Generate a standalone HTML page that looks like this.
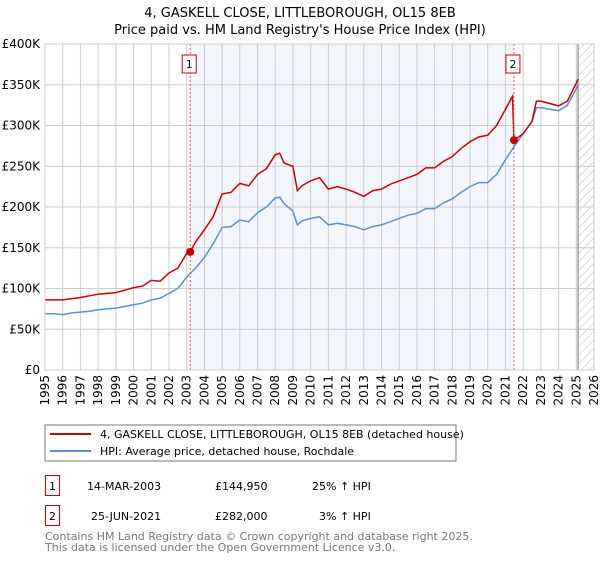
<!DOCTYPE html>
<html><head><meta charset="utf-8"><style>
body{margin:0;background:#fff;width:600px;height:560px;overflow:hidden}
svg text{font-family:"DejaVu Sans","Liberation Sans",sans-serif;}
</style></head><body>
<svg id="c" width="600" height="560" xmlns="http://www.w3.org/2000/svg">
<text x="300" y="17" text-anchor="middle" font-size="13">4, GASKELL CLOSE, LITTLEBOROUGH, OL15 8EB</text>
<text x="300" y="34" text-anchor="middle" font-size="13">Price paid vs. HM Land Registry's House Price Index (HPI)</text>
<defs><pattern id="h" width="6" height="6" patternUnits="userSpaceOnUse" patternTransform="rotate(45)"><line x1="0" y1="0" x2="0" y2="6" stroke="#bbb" stroke-width="1"/></pattern></defs>
<g id="grid"></g><g id="marks"></g>
<rect x="45" y="425" width="411" height="36" fill="#fff" stroke="#777"/>
<line x1="50" y1="434" x2="91" y2="434" stroke="#cc0000" stroke-width="2"/>
<text x="100" y="438" font-size="11">4, GASKELL CLOSE, LITTLEBOROUGH, OL15 8EB (detached house)</text>
<line x1="50" y1="451" x2="91" y2="451" stroke="#5b8fd4" stroke-width="2"/>
<text x="100" y="455" font-size="11">HPI: Average price, detached house, Rochdale</text>
<g font-size="11">
<rect x="45.5" y="475.5" width="14" height="20" fill="none" stroke="#cc0000"/>
<text x="52.5" y="490" text-anchor="middle">1</text>
<text x="87" y="490">14-MAR-2003</text>
<text x="215" y="490">£144,950</text>
<text x="312" y="490">25% ↑ HPI</text>
<rect x="45.5" y="505.5" width="14" height="20" fill="none" stroke="#cc0000"/>
<text x="52.5" y="520" text-anchor="middle">2</text>
<text x="91" y="520">25-JUN-2021</text>
<text x="215" y="520">£282,000</text>
<text x="319" y="520">3% ↑ HPI</text>
</g>
<text x="45" y="540" font-size="11" fill="#777">Contains HM Land Registry data © Crown copyright and database right 2025.</text>
<text x="45" y="551" font-size="11" fill="#777">This data is licensed under the Open Government Licence v3.0.</text>
</svg>
<script>
const yearTicks=[1995,1996,1997,1998,1999,2000,2001,2002,2003,2004,2005,2006,2007,2008,2009,2010,2011,2012,2013,2014,2015,2016,2017,2018,2019,2020,2021,2022,2023,2024,2025,2026];
const priceTicks=[0,50,100,150,200,250,300,350,400];
const priceLabels=["£0","£50K","£100K","£150K","£200K","£250K","£300K","£350K","£400K"];
const hpiYears=[1995,1995.5,1996,1996.5,1997,1997.5,1998,1998.5,1999,1999.5,2000,2000.5,2001,2001.5,2002,2002.5,2003,2003.5,2004,2004.5,2005,2005.5,2006,2006.5,2007,2007.5,2008,2008.25,2008.5,2009,2009.25,2009.5,2010,2010.5,2011,2011.5,2012,2012.5,2013,2013.5,2014,2014.5,2015,2015.5,2016,2016.5,2017,2017.5,2018,2018.5,2019,2019.5,2020,2020.5,2021,2021.48,2022,2022.5,2022.75,2023,2023.5,2024,2024.5,2025,2025.1];
const hpiValues=[69,69,68,70,71,72,74,75,76,78,80,82,86,88,94,100,114,125,138,155,175,176,184,182,193,200,211,212,204,195,178,183,186,188,178,180,178,176,172,176,178,182,186,190,192,198,198,205,210,218,225,230,230,240,258,274,290,305,322,322,320,318,325,345,350];
const propYears=[1995,1996,1997,1998,1999,2000,2000.5,2001,2001.5,2002,2002.5,2003,2003.2,2003.5,2004,2004.5,2005,2005.5,2006,2006.5,2007,2007.5,2008,2008.25,2008.5,2009,2009.25,2009.5,2010,2010.5,2011,2011.5,2012,2012.5,2013,2013.5,2014,2014.5,2015,2015.5,2016,2016.5,2017,2017.5,2018,2018.5,2019,2019.5,2020,2020.5,2021,2021.4,2021.48,2022,2022.5,2022.75,2023,2023.5,2024,2024.5,2025,2025.1];
const propValues=[86,86,89,93,95,101,103,110,109,119,125,143,145,157,172,188,216,218,229,226,240,247,264,266,254,250,220,226,232,236,222,225,222,218,213,220,222,228,232,236,240,248,248,256,262,272,280,286,288,300,320,336,282,290,305,330,330,327,324,330,352,357];
const saleYears=[2003.2,2021.48];
const saleValues=[144.95,282];
const saleLabels=["1","2"];
const X0=45,X1=594,Y0=370,Y1=44;
const x=t=>X0+(t-1995)*(X1-X0)/31;
const y=v=>Y0-v*(Y0-Y1)/400;
const NS="http://www.w3.org/2000/svg";
const g=document.getElementById('grid'),m=document.getElementById('marks');
function mk(p,tag,a){const e=document.createElementNS(NS,tag);for(const k in a)e.setAttribute(k,a[k]);p.appendChild(e);return e;}
let r=mk(g,'rect',{x:x(saleYears[0]),y:Y1,width:x(saleYears[1])-x(saleYears[0]),height:Y0-Y1,fill:'#f3f6fd'});


r=mk(g,'rect',{x:x(2025.1),y:Y1,width:X1-x(2025.1),height:Y0-Y1,fill:'url(#h)'});


yearTicks.forEach(t=>{const l=mk(g,'line',{x1:x(t),x2:x(t),y1:Y1,y2:Y0,stroke:'#ccc'});


const tx=mk(g,'text',{x:x(t)+4,y:Y0+5,'font-size':12,transform:`rotate(-90 ${x(t)+4} ${Y0+5})`,'text-anchor':'end'});tx.textContent=t;

});
priceTicks.forEach((v,i)=>{const l=mk(g,'line',{x1:X0,x2:X1,y1:y(v),y2:y(v),stroke:'#ccc'});


const tx=mk(g,'text',{x:X0-5,y:y(v)+4,'font-size':12,'text-anchor':'end'});tx.textContent=priceLabels[i];

});
const fy=mk(g,'line',{x1:x(2025.1),x2:x(2025.1),y1:Y1,y2:Y0,stroke:'#888',"stroke-width":1.2});


const pts=(xs,vs)=>xs.map((t,i)=>x(t).toFixed(1)+','+y(vs[i]).toFixed(1)).join(' ');
const hl=mk(m,'polyline',{points:pts(hpiYears,hpiValues),fill:'none',stroke:'#5b8fd4','stroke-width':1.5});


const pl=mk(m,'polyline',{points:pts(propYears,propValues),fill:'none',stroke:'#cc0000','stroke-width':1.5});


saleYears.forEach((t,i)=>{
const vl=mk(m,'line',{x1:x(t),x2:x(t),y1:Y1,y2:Y0,stroke:'#e06060','stroke-dasharray':'2,2'});


const d=mk(m,'circle',{cx:x(t),cy:y(saleValues[i]),r:4,fill:'#cc0000'});


const b=mk(m,'rect',{x:x(t)-8,y:55,width:14,height:18,fill:'#fff',stroke:'#cc0000'});


const tx=mk(m,'text',{x:x(t)-1,y:68,'font-size':11,'text-anchor':'middle'});tx.textContent=saleLabels[i];

});
const ax=mk(m,'rect',{x:X0,y:Y1,width:X1-X0,height:Y0-Y1,fill:'none',stroke:'#ccc'});


</script>
</body></html>
